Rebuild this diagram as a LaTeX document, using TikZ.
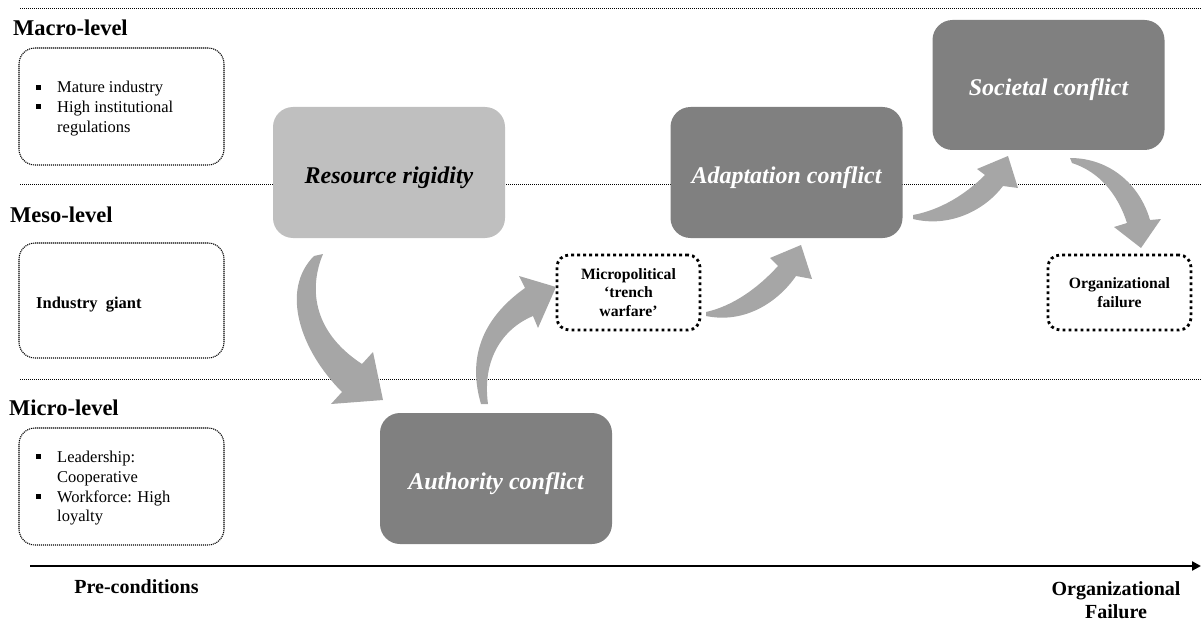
\documentclass[tikz,border=0pt]{standalone}
\usepackage{fontspec}
\setmainfont{Liberation Serif}
\usetikzlibrary{arrows.meta}
\definecolor{rigidfill}{HTML}{BFBFBF}
\definecolor{conflictfill}{HTML}{808080}
\definecolor{flowfill}{HTML}{A6A6A6}

\begin{document}
\begin{tikzpicture}[x=1pt,y=-1pt,
  levelline/.style={line width=0.9pt, dash pattern=on 1pt off 1pt},
  levellabel/.style={anchor=base west, inner sep=0pt, font=\fontsize{22.5}{26}\selectfont\bfseries},
  condbox/.style={draw, rounded corners=16pt, line width=1.1pt, dash pattern=on 1.1pt off 0.9pt,
    minimum width=205pt, inner sep=0pt},
  condtext/.style={anchor=base west, inner sep=0pt, font=\fontsize{16.5}{19.5}\selectfont},
  stagebox/.style={rounded corners=20pt, minimum width=232pt, minimum height=131pt, inner sep=0pt,
    text height=27pt, text depth=5.5pt,
    font=\fontsize{24}{28}\selectfont\bfseries\itshape},
  lightstage/.style={stagebox, fill=rigidfill, text=black},
  darkstage/.style={stagebox, fill=conflictfill, text=white},
  outcomebox/.style={draw, rounded corners=12pt, line width=2.8pt, dash pattern=on 2.8pt off 3.2pt,
    minimum width=143pt, inner sep=0pt, align=center, font=\fontsize{15.7}{18.3}\selectfont\bfseries},
  flow/.style={fill=flowfill, draw=none},
  axislabel/.style={inner sep=0pt, align=center, font=\fontsize{20}{23}\selectfont\bfseries}
]
\useasboundingbox (0,0) rectangle (1202,623);

% level separators
\draw[levelline] (20,8) -- (1202,8);
\draw[levelline] (20,184) -- (1202,184);
\draw[levelline] (20,379) -- (1202,379);

% level titles
\node[levellabel] (macro) at (13,36) {Macro-level};
\node[levellabel] (meso) at (10,222) {Meso-level};
\node[levellabel] (micro) at (9,415) {Micro-level};

% pre-conditions per level
\node[condbox, minimum height=117pt] (macrobox) at (121.5,106.5) {};
\fill (35.5,85) rectangle (40.5,90);
\fill (35.5,104.5) rectangle (40.5,109.5);
\node[condtext] (mac1) at (57,93) {Mature industry};
\node[condtext] (mac2) at (57,112.5) {High institutional};
\node[condtext] (mac3) at (57,132) {regulations};

\node[condbox, minimum height=115pt] (mesobox) at (121.5,300.5) {};
\node[condtext, font=\fontsize{16.5}{19.5}\selectfont\bfseries] (mes1) at (36,308) {Industry~~giant};

\node[condbox, minimum height=117pt] (microbox) at (121.5,486.5) {};
\fill (35.5,454) rectangle (40.5,459);
\fill (35.5,494) rectangle (40.5,499);
\node[condtext] (mic1) at (57,462) {Leadership:};
\node[condtext] (mic2) at (57,482) {Cooperative};
\node[condtext] (mic3) at (57,502) {Workforce: High};
\node[condtext] (mic4) at (57,521.5) {loyalty};

% conflict stages
\node[lightstage] (rigid) at (389,172.5) {Resource rigidity};
\node[darkstage] (adapt) at (786.5,172.5) {Adaptation conflict};
\node[darkstage, minimum height=130pt] (societal) at (1048.5,85) {Societal conflict};
\node[darkstage] (authority) at (496,478.5) {Authority conflict};

% intermediate and final outcomes
\node[outcomebox, minimum height=75pt] (trench) at (628.5,292.5)
  {Micropolitical\\‘trench\\warfare’};
\node[outcomebox, minimum height=75pt] (failure) at (1119.5,292.5)
  {Organizational\\failure};

% curved block arrows between stages
% rigidity -> authority
\fill[flow] (314,256) -- (323,254)
  .. controls (310,285) and (310,330) .. (362,364)
  -- (373,352) -- (383,400) -- (331,404) -- (342,392)
  .. controls (300,350) and (280,290) .. (314,256) -- cycle;
% authority -> trench warfare
\fill[flow] (481,404)
  .. controls (468,360) and (480,320) .. (525,288)
  -- (519,276) -- (556,287) -- (538,328) -- (533,316)
  .. controls (502,329) and (482,360) .. (488,404) -- cycle;
% trench warfare -> adaptation
\fill[flow] (706,312)
  .. controls (733,306) and (758,288) .. (778,266)
  -- (770,258) -- (801,245) -- (812,279) -- (796,276)
  .. controls (778,302) and (745,324) .. (706,316) -- cycle;
% adaptation -> societal
\fill[flow] (913,215)
  .. controls (940,210) and (965,195) .. (985,175)
  -- (977,169) -- (1008,156) -- (1018,188) -- (1003,186)
  .. controls (985,210) and (950,228) .. (913,219) -- cycle;
% societal -> failure
\fill[flow] (1070,158)
  .. controls (1110,158) and (1140,185) .. (1150,220)
  -- (1161,219) -- (1141,248) -- (1114,227) -- (1127,223)
  .. controls (1118,195) and (1100,172) .. (1072,163) -- cycle;

% time axis
\coordinate (axstart) at (30,566);
\coordinate (axend) at (1201,566);
\draw[line width=2.5pt, -{Triangle[length=9pt,width=9pt]}] (axstart) -- (axend);
\node[axislabel, anchor=base] (pre) at (136.5,593) {Pre-conditions};
\node[axislabel, anchor=base] (orgfail1) at (1116,595) {Organizational};
\node[axislabel, anchor=base] (orgfail2) at (1116,618) {Failure};
\end{tikzpicture}
\end{document}
